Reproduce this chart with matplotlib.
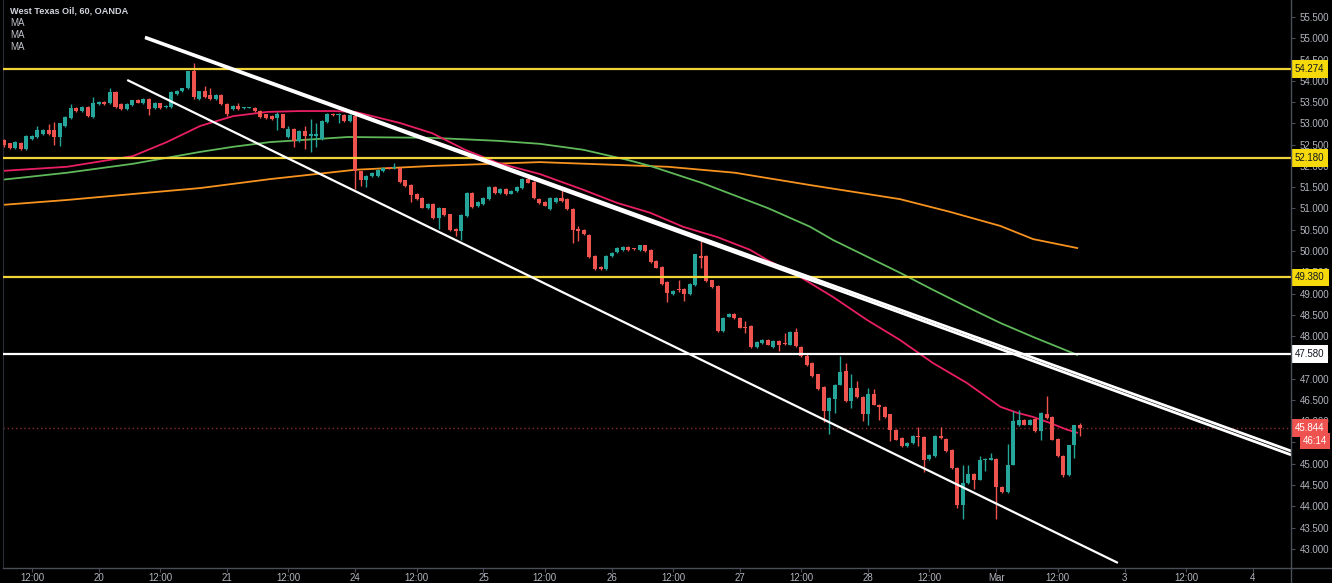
import numpy as np
import matplotlib.pyplot as plt
from matplotlib.lines import Line2D

# WTI hourly candles (OANDA) left to right
opens = [52.60, 52.53, 52.42, 52.55, 52.39, 52.63, 52.67, 52.74, 52.84, 52.84,
         52.68, 52.94, 53.12, 53.35, 53.29, 53.39, 53.15, 53.45, 53.51, 53.47,
         53.73, 53.45, 53.33, 53.43, 53.54, 53.47, 53.57, 53.36, 53.47, 53.39,
         53.39, 53.69, 53.76, 53.82, 54.22, 53.58, 53.75, 53.67, 53.58, 53.67,
         53.45, 53.33, 53.41, 53.36, 53.37, 53.37, 53.29, 53.21, 53.18, 53.12,
         53.21, 52.68, 52.86, 52.59, 52.82, 52.70, 52.70, 52.63, 53.04, 53.22,
         53.20, 53.20, 53.06, 53.18, 51.87, 51.66, 51.76, 51.76, 51.88, 51.96,
         51.94, 51.96, 51.66, 51.55, 51.35, 51.25, 51.00, 51.11, 50.77, 51.00,
         50.86, 50.51, 50.46, 50.82, 51.37, 51.06, 51.10, 51.22, 51.50, 51.37,
         51.45, 51.35, 51.40, 51.47, 51.69, 51.63, 51.23, 51.15, 50.98, 51.15,
         51.25, 51.22, 50.99, 50.52, 50.49, 50.37, 49.88, 49.63, 49.57, 49.88,
         49.98, 50.02, 50.10, 50.06, 50.02, 50.13, 50.02, 49.76, 49.62, 49.27,
         48.98, 49.10, 49.11, 48.98, 49.19, 49.88, 49.88, 49.31, 49.18, 48.12,
         48.46, 48.53, 48.43, 48.22, 48.23, 47.75, 47.84, 47.92, 47.75, 47.88,
         47.82, 47.80, 48.09, 47.75, 47.54, 47.36, 47.10, 46.81, 46.23, 46.52,
         46.86, 47.17, 46.47, 46.78, 46.57, 46.18, 46.65, 46.39, 46.34, 46.16,
         45.80, 45.61, 45.41, 45.49, 45.65, 45.63, 45.11, 45.18, 45.65, 45.59,
         45.33, 44.90, 44.02, 44.55, 44.77, 44.63, 45.08, 45.10, 45.11, 44.45,
         44.33, 44.98, 45.90, 46.04, 45.92, 46.05, 45.76, 46.18, 46.10, 45.59,
         45.19, 44.74, 45.43, 45.90]
highs = [52.63, 52.55, 52.59, 52.57, 52.72, 52.72, 52.94, 52.86, 52.98, 53.03,
         53.02, 53.17, 53.45, 53.38, 53.41, 53.41, 53.61, 53.53, 53.53, 53.84,
         53.75, 53.47, 53.47, 53.56, 53.57, 53.59, 53.59, 53.51, 53.49, 53.43,
         53.75, 53.78, 53.84, 54.24, 54.41, 53.77, 53.88, 53.84, 53.69, 53.69,
         53.47, 53.43, 53.47, 53.39, 53.39, 53.39, 53.31, 53.23, 53.20, 53.26,
         53.23, 52.94, 52.88, 52.84, 52.94, 53.10, 53.00, 53.08, 53.24, 53.24,
         53.25, 53.22, 53.22, 53.20, 51.89, 51.78, 51.86, 51.92, 51.98, 51.98,
         52.06, 51.98, 51.68, 51.57, 51.37, 51.27, 51.12, 51.13, 51.04, 51.02,
         50.88, 50.53, 50.87, 51.39, 51.39, 51.18, 51.27, 51.52, 51.52, 51.47,
         51.47, 51.44, 51.52, 51.71, 51.80, 51.65, 51.25, 51.17, 51.27, 51.27,
         51.47, 51.24, 51.01, 50.59, 50.51, 50.39, 49.90, 49.65, 49.90, 49.97,
         50.10, 50.12, 50.12, 50.08, 50.15, 50.15, 50.04, 49.78, 49.64, 49.29,
         49.09, 49.33, 49.13, 49.24, 49.94, 50.24, 49.90, 49.33, 49.20, 48.45,
         48.55, 48.55, 48.45, 48.35, 48.25, 47.88, 47.94, 47.94, 47.90, 47.90,
         48.08, 48.11, 48.20, 47.77, 47.61, 47.38, 47.12, 46.83, 46.57, 46.88,
         47.54, 47.36, 47.10, 46.94, 46.59, 46.78, 46.76, 46.41, 46.36, 46.18,
         45.82, 45.63, 45.51, 45.67, 45.87, 45.65, 45.23, 45.67, 45.87, 45.61,
         45.35, 44.92, 44.98, 44.98, 44.79, 45.19, 45.14, 45.25, 45.13, 44.47,
         45.47, 46.23, 46.27, 46.06, 46.06, 46.07, 46.22, 46.59, 46.12, 45.61,
         45.21, 45.45, 45.92, 45.96]
lows = [52.45, 52.40, 52.40, 52.37, 52.37, 52.61, 52.65, 52.72, 52.72, 52.50,
        52.47, 52.92, 53.10, 53.26, 53.27, 53.16, 53.13, 53.43, 53.43, 53.45,
        53.37, 53.31, 53.31, 53.41, 53.47, 53.45, 53.20, 53.34, 53.34, 53.37,
        53.37, 53.67, 53.74, 53.80, 53.58, 53.56, 53.60, 53.56, 53.56, 53.43,
        53.18, 53.31, 53.31, 53.33, 53.35, 53.27, 53.12, 53.10, 53.08, 52.84,
        52.88, 52.66, 52.45, 52.57, 52.39, 52.32, 52.45, 52.61, 53.02, 53.17,
        53.00, 53.04, 53.04, 51.45, 51.53, 51.50, 51.74, 51.74, 51.86, 51.92,
        51.92, 51.61, 51.51, 51.16, 51.20, 51.00, 50.98, 50.75, 50.51, 50.83,
        50.47, 50.35, 50.27, 50.80, 51.01, 51.04, 51.08, 51.20, 51.35, 51.35,
        51.31, 51.33, 51.38, 51.45, 51.59, 51.23, 51.10, 51.05, 50.96, 51.13,
        51.15, 50.97, 50.20, 50.24, 50.37, 49.84, 49.55, 49.55, 49.55, 49.86,
        49.96, 50.00, 50.00, 50.02, 50.00, 49.97, 49.72, 49.59, 49.20, 48.80,
        48.96, 49.03, 48.82, 48.96, 49.17, 49.59, 49.27, 49.14, 48.10, 48.10,
        48.44, 48.41, 48.18, 48.08, 47.73, 47.73, 47.82, 47.78, 47.73, 47.65,
        47.78, 47.78, 47.75, 47.51, 47.29, 47.05, 46.74, 45.98, 45.70, 46.20,
        46.84, 46.45, 46.31, 46.55, 46.00, 45.90, 46.37, 46.04, 46.08, 45.53,
        45.55, 45.39, 45.39, 45.47, 45.41, 44.80, 45.09, 45.16, 45.58, 45.27,
        44.88, 43.96, 43.70, 44.53, 44.41, 44.61, 44.82, 45.08, 43.69, 44.31,
        44.31, 44.96, 45.88, 45.90, 45.90, 45.74, 45.57, 46.06, 45.55, 45.16,
        44.70, 44.72, 45.14, 45.65]
closes = [52.49, 52.42, 52.57, 52.39, 52.70, 52.70, 52.84, 52.84, 52.74, 52.67,
          53.00, 53.15, 53.35, 53.28, 53.39, 53.18, 53.49, 53.51, 53.45, 53.73,
          53.39, 53.33, 53.45, 53.54, 53.49, 53.57, 53.33, 53.49, 53.36, 53.41,
          53.73, 53.76, 53.82, 54.22, 53.61, 53.75, 53.62, 53.58, 53.67, 53.45,
          53.22, 53.41, 53.33, 53.37, 53.37, 53.29, 53.14, 53.12, 53.10, 53.23,
          52.90, 52.86, 52.59, 52.82, 52.70, 52.74, 52.75, 53.06, 53.22, 53.19,
          53.21, 53.06, 53.20, 51.87, 51.66, 51.76, 51.84, 51.90, 51.96, 51.94,
          51.98, 51.63, 51.53, 51.32, 51.22, 51.02, 51.10, 50.77, 51.02, 50.85,
          50.49, 50.46, 50.85, 51.37, 51.03, 51.16, 51.25, 51.50, 51.37, 51.45,
          51.33, 51.42, 51.50, 51.69, 51.61, 51.25, 51.12, 51.07, 51.25, 51.25,
          51.17, 50.99, 50.49, 50.48, 50.39, 49.86, 49.57, 49.57, 49.88, 49.95,
          50.08, 50.10, 50.02, 50.05, 50.13, 49.99, 49.74, 49.61, 49.22, 49.02,
          49.07, 49.08, 48.98, 49.22, 49.92, 49.84, 49.29, 49.16, 48.12, 48.43,
          48.53, 48.43, 48.20, 48.20, 47.75, 47.86, 47.92, 47.80, 47.88, 47.80,
          47.81, 48.09, 47.77, 47.53, 47.31, 47.07, 46.76, 46.23, 46.55, 46.86,
          47.15, 46.47, 46.78, 46.57, 46.18, 46.65, 46.39, 46.34, 46.10, 45.79,
          45.57, 45.41, 45.49, 45.65, 45.62, 45.10, 45.21, 45.65, 45.60, 45.29,
          44.90, 44.02, 44.55, 44.75, 44.63, 45.08, 45.10, 45.12, 44.45, 44.33,
          44.98, 46.00, 46.04, 45.92, 46.04, 45.76, 46.20, 46.08, 45.57, 45.18,
          44.74, 45.43, 45.90, 45.84]

# moving averages, sampled along the curves (bar index, price)
ma_red_bars = [-0.7, 11.3, 23.1, 29.2, 35.2, 41.1, 47.2, 53.1, 59.0, 63.0, 71.0,
               76.8, 82.7, 88.6, 96.1, 103.9, 110.0, 115.9, 121.8, 127.9, 133.8,
               136.9, 142.8, 148.7, 154.8, 160.7, 166.6, 172.7, 178.7, 181.7,
               184.6, 187.6, 190.7, 192.5]
ma_red_vals = [51.88, 51.98, 52.23, 52.56, 52.94, 53.17, 53.27, 53.29, 53.29,
               53.27, 53.01, 52.77, 52.38, 52.07, 51.81, 51.44, 51.13, 50.90,
               50.57, 50.33, 50.03, 49.79, 49.39, 48.92, 48.38, 47.91, 47.37,
               46.90, 46.34, 46.20, 46.10, 45.96, 45.80, 45.73]
ma_green_bars = [-0.7, 11.3, 23.1, 35.2, 41.1, 47.7, 61.7, 76.8, 88.6, 96.1,
                 103.9, 111.9, 115.9, 125.2, 137.0, 144.6, 148.7, 160.7, 166.6,
                 172.7, 178.7, 184.6, 192.5]
ma_green_vals = [51.67, 51.84, 52.05, 52.33, 52.45, 52.56, 52.68, 52.66, 52.59,
                 52.52, 52.38, 52.14, 52.00, 51.60, 51.01, 50.57, 50.26, 49.49,
                 49.09, 48.69, 48.31, 47.98, 47.56]
ma_orange_bars = [-0.7, 11.3, 23.1, 35.2, 47.7, 63.0, 76.8, 96.1, 119.1, 131.1,
                  144.6, 160.7, 169.7, 178.7, 184.6, 192.5]
ma_orange_vals = [51.08, 51.20, 51.34, 51.48, 51.69, 51.91, 52.00, 52.09, 51.98,
                  51.84, 51.55, 51.22, 50.92, 50.59, 50.28, 50.07]

# drawn levels and trend lines
yellow_levels = [54.274, 52.180, 49.380]
white_level = 47.580
last_price = 45.844
countdown = "46:14"
trend_upper_a = ([25.3, 231.5], [55.03, 45.27])
trend_upper_b = ([25.3, 231.5], [55.01, 45.18])
trend_lower = ([22.1, 199.8], [54.02, 42.67])

day_labels = ["20", "21", "24", "25", "26", "27", "28", "Mar", "3", "4"]
price_ticks = np.arange(43.0, 55.51, 0.5)

BG = "black"
TXT = "#b2b5be"
GRID = "#4a4e59"
UP, DOWN = "#26a69a", "#ef5350"
YEL = "#f0d43a"

W, H = 1332, 583
fig = plt.figure(figsize=(W / 100, H / 100), dpi=100, facecolor=BG)
ax = fig.add_axes([3 / W, 15 / H, 1288 / W, 568 / H])
ax.set_facecolor(BG)

o = np.array(opens); hi = np.array(highs); lo = np.array(lows); c = np.array(closes)
x = np.arange(len(c))
cols = np.where(c >= o, UP, DOWN)

# MAs under the candles
ax.plot(ma_orange_bars, ma_orange_vals, color="#f7931e", lw=1.3, zorder=2)
ax.plot(ma_green_bars, ma_green_vals, color="#5fb85a", lw=1.3, zorder=2)
ax.plot(ma_red_bars, ma_red_vals, color="#e91e63", lw=1.3, zorder=2)

ax.vlines(x, lo, hi, colors=cols, lw=1, zorder=3)
body = np.maximum(np.abs(c - o), 0.025)
ax.bar(x, body, 0.72, bottom=np.minimum(o, c), color=cols, lw=0, zorder=3)

for lv in yellow_levels:
    ax.axhline(lv, color=YEL, lw=1.6, zorder=4)
ax.axhline(white_level, color="white", lw=1.6, zorder=4)
ax.axhline(last_price, color="#8b2a2a", lw=1, ls=(0, (1, 2)), zorder=1)

ax.plot(*trend_upper_a, color="white", lw=2, zorder=5, solid_capstyle="butt")
ax.plot(*trend_upper_b, color="white", lw=2, zorder=5, solid_capstyle="butt")
ax.plot(*trend_lower, color="white", lw=1.6, zorder=5, solid_capstyle="butt")

ax.set_xlim(-0.18, 230.85)
ax.set_ylim(42.55, 55.90)

# time axis: 23 hourly bars per session, midnight of the 20th at bar 17
pos, labs = [], []
for k, d in enumerate(day_labels):
    m = 17 + 23 * k
    pos += [m - 12, m]
    labs += ["12:00", d]
ax.set_xticks(pos)
ax.set_xticklabels(labs)

ax.yaxis.tick_right()
ax.set_yticks(price_ticks)
ax.set_yticklabels([f"{v:.3f}" for v in price_ticks])
ax.tick_params(colors=GRID, labelcolor=TXT, labelsize=7, length=3, width=0.8)
ax.tick_params(axis="y", pad=3)
ax.tick_params(axis="x", pad=0.5)
for lab in ax.get_xticklabels() + ax.get_yticklabels():
    lab.set_family("Liberation Sans")

for s in ["top", "right", "bottom"]:
    ax.spines[s].set_visible(False)
ax.spines["left"].set_color("#2a2e39")
fig.add_artist(Line2D([1291 / W] * 2, [0, 1], color=GRID, lw=1))
fig.add_artist(Line2D([3 / W, 1], [15 / H] * 2, color=GRID, lw=1))

# price labels on the scale
box_x = 1.0 + 4 / 1288
tr = ax.get_yaxis_transform()
for lv in yellow_levels:
    ax.text(box_x, lv, f"{lv:.3f}", transform=tr, ha="left", va="center",
            fontsize=7, color="#131722", family="Liberation Sans", zorder=10,
            clip_on=False, bbox=dict(boxstyle="square,pad=0.4", fc="#f5d90a", ec="none"))
ax.text(box_x, white_level, f"{white_level:.3f}", transform=tr, ha="left", va="center",
        fontsize=7, color="#131722", family="Liberation Sans", zorder=10, clip_on=False,
        bbox=dict(boxstyle="square,pad=0.4", fc="white", ec="none"))
ax.text(box_x, last_price, f"{last_price:.3f}", transform=tr, ha="left", va="center",
        fontsize=7, color="white", family="Liberation Sans", zorder=10, clip_on=False,
        bbox=dict(boxstyle="square,pad=0.4", fc=DOWN, ec="none"))
ax.text(1.0 + 12 / 1288, last_price - 0.30, countdown, transform=tr, ha="left",
        va="center", fontsize=7, color="white", family="Liberation Sans", zorder=10,
        clip_on=False, bbox=dict(boxstyle="square,pad=0.3", fc=DOWN, ec="none"))

fig.text(10 / W, 1 - 11 / H, "West Texas Oil, 60, OANDA", color="#d1d4dc",
         fontsize=6.6, fontweight="bold", family="Liberation Sans", va="center")
for i in range(3):
    fig.text(10 / W, 1 - (23 + 12 * i) / H, "MA", color="#c0c3cb", fontsize=7,
             family="Liberation Sans", va="center")

fig.savefig("out.png", dpi=100, facecolor=BG)
